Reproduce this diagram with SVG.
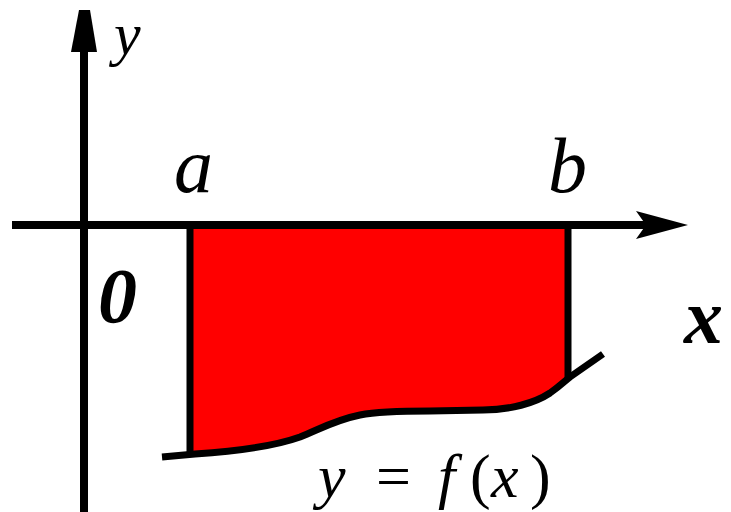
<svg xmlns="http://www.w3.org/2000/svg" width="731" height="512" viewBox="0 0 731 512">
<style>
.lbl{font-family:"Liberation Serif","Times New Roman",serif;font-style:italic;fill:#000}
.ax{stroke:#000;stroke-width:8;fill:none}
.edge{stroke:#000;stroke-width:7;fill:none}
</style>
<rect width="731" height="512" fill="#fff"/>
<g id="region">
<path d="M190,225 L568,225 L568,377 C565,381 560,386 550,393 C535,403 510,410 483,410 L430,411 C400,411 375,412 360,415 C335,420 320,429 300,437 C275,446 240,451 195,454 L190,454 Z" fill="#ff0000"/>
<path class="edge" d="M190,225 L190,455"/>
<path class="edge" d="M568,225 L568,378"/>
<path class="edge" d="M162,457 L195,454 C240,451 275,446 300,437 C320,429 335,420 360,415 C375,412 400,411 430,411 L483,410 C510,410 535,403 550,393 C560,386 565,381 570,377 L603,354"/>
</g>
<g id="connectors">
<line class="ax" x1="84" y1="40" x2="84" y2="512"/>
<polygon points="79,10 90,10 97,52 71,52" fill="#000"/>
<line class="ax" x1="12" y1="225" x2="650" y2="225"/>
<polygon points="688,225 636,211 646,225 636,239" fill="#000"/>
</g>
<g id="labels">
<text class="lbl" x="114" y="54" font-size="60">y</text>
<text class="lbl" x="174" y="192" font-size="78">a</text>
<text class="lbl" x="548" y="192" font-size="78">b</text>
<text class="lbl" x="98" y="322" font-size="78" font-weight="bold">0</text>
<text class="lbl" x="684" y="343" font-size="78" font-weight="bold">x</text>
<text class="lbl" font-size="62" y="497"><tspan x="318">y</tspan><tspan x="376" font-style="normal">=</tspan><tspan x="438">f</tspan><tspan x="470" font-style="normal">(</tspan><tspan x="491">x</tspan><tspan x="530" font-style="normal">)</tspan></text>
</g>
</svg>
